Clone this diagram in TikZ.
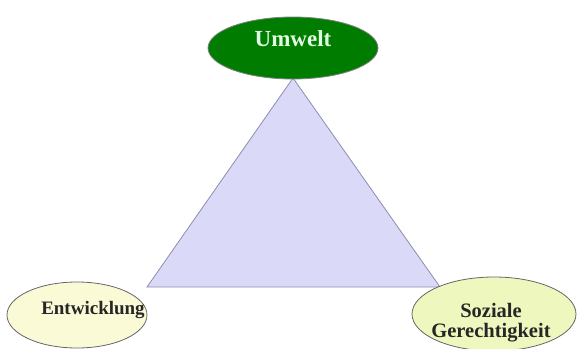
\documentclass[tikz,border=0pt]{standalone}
\usepackage{fontspec}
\setmainfont{Liberation Serif}
\usetikzlibrary{shapes.geometric}
\definecolor{dgreen}{RGB}{0,125,0}
\definecolor{lgtext}{RGB}{225,250,225}
\definecolor{lav}{RGB}{218,218,248}
\definecolor{lavborder}{RGB}{140,140,175}
\definecolor{cream}{RGB}{250,250,215}
\definecolor{cream2}{RGB}{238,248,190}
\tikzset{
  ell/.style={ellipse, draw=black!60, line width=0.8pt, inner sep=0pt},
  lbl/.style={font=\fontsize{19}{21}\selectfont\bfseries, align=center},
}
\begin{document}
\begin{tikzpicture}[x=1pt,y=-1pt]
\useasboundingbox (0,0) rectangle (578,348);
\coordinate (top) at (293,78);
\coordinate (bl) at (147,287);
\coordinate (br) at (440,287);
\filldraw[fill=lav, draw=lavborder, line width=0.8pt] (top) -- (bl) -- (br) -- cycle;
\node[ell, fill=dgreen, draw=black!50, minimum width=170pt, minimum height=62pt] (umw) at (293,48) {};
\node[lbl, text=lgtext, font=\fontsize{23}{25}\selectfont\bfseries] (umwt) at (293,39) {Umwelt};
\node[ell, fill=cream, minimum width=140pt, minimum height=66pt] (ent) at (77,315) {};
\node[lbl, text=black!85] (entt) at (93,310) {Entwicklung};
\node[ell, fill=cream2, minimum width=164pt, minimum height=74pt] (soz) at (494,314) {};
\node[lbl, text=black!85, font=\fontsize{20.5}{20}\selectfont\bfseries] (sozt) at (491,323) {Soziale\\Gerechtigkeit};
\end{tikzpicture}
\end{document}
